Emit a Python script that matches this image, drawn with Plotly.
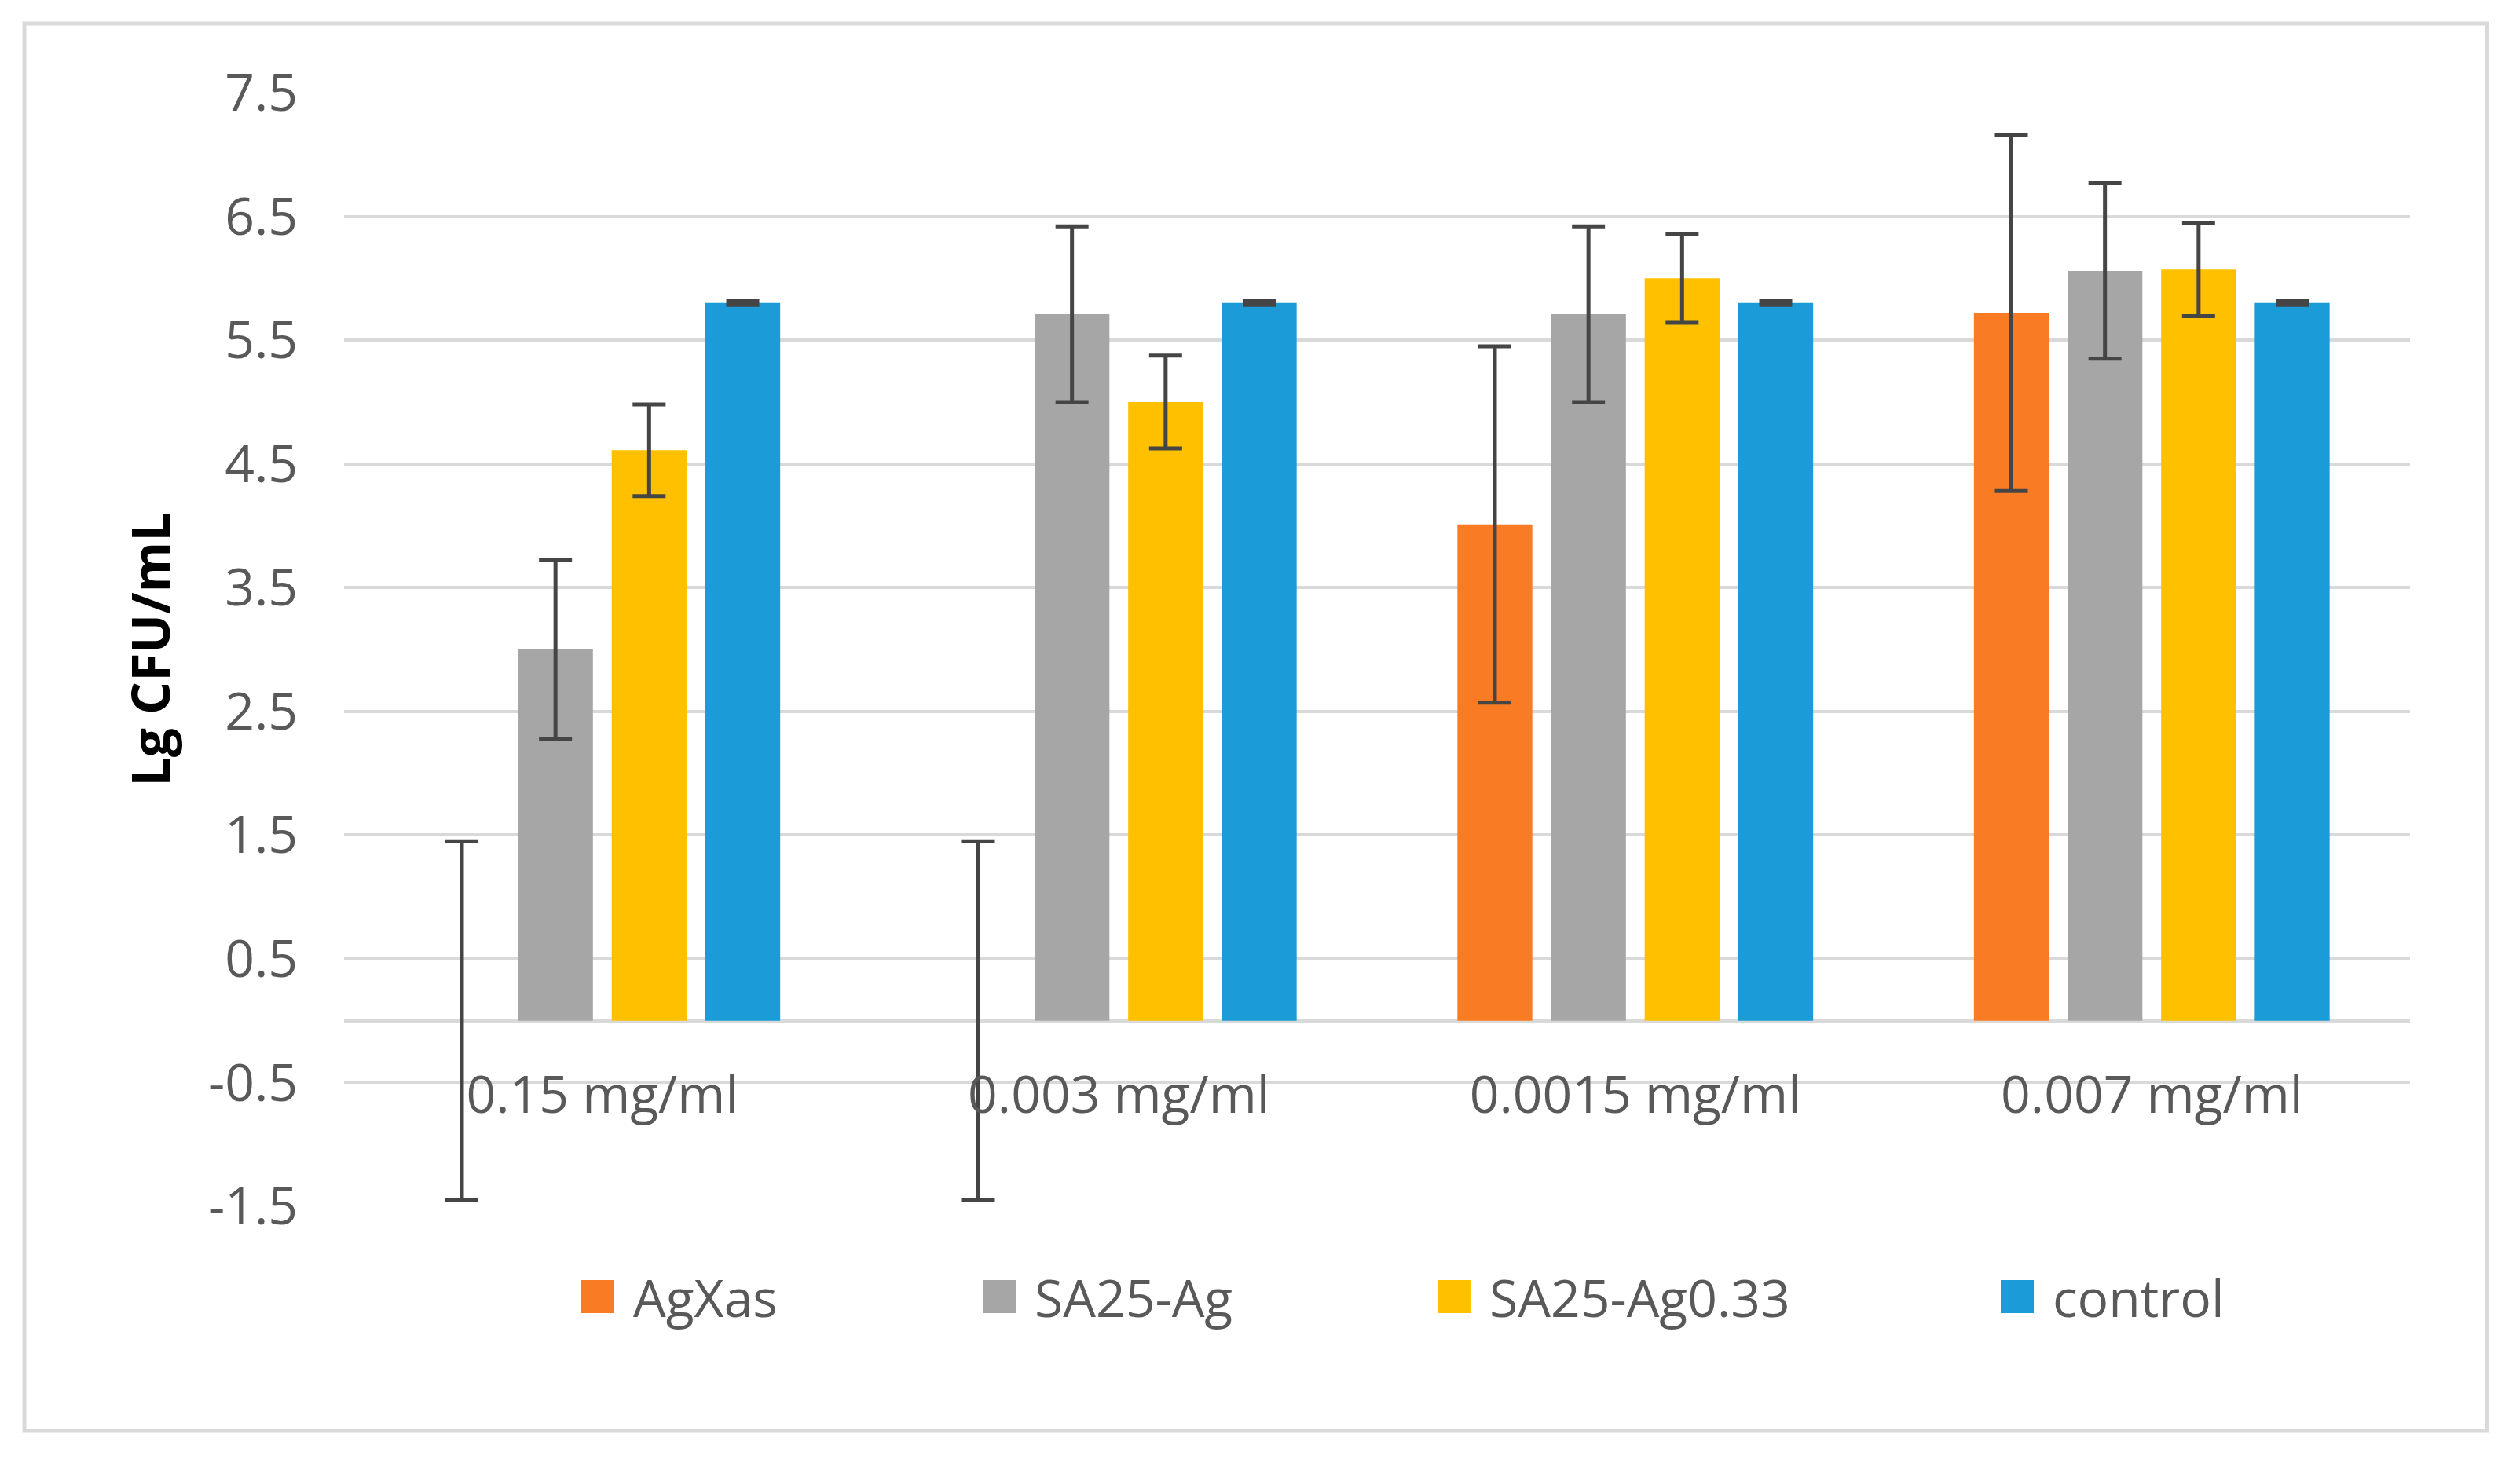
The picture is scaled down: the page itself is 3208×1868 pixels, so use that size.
import plotly.graph_objects as go

# ---------------- data ----------------
categories = ["0.15 mg/ml", "0.003 mg/ml", "0.0015 mg/ml", "0.007 mg/ml"]
series_names = ["AgXas", "SA25-Ag", "SA25-Ag0.33", "control"]

agxas = [0.0, 0.0, 4.01, 5.72]
agxas_err = [1.45, 1.45, 1.44, 1.44]

sa25_ag = [3.0, 5.71, 5.71, 6.06]
sa25_ag_err = [0.72, 0.71, 0.71, 0.71]

sa25_ag033 = [4.61, 5.0, 6.0, 6.07]
sa25_ag033_err = [0.37, 0.375, 0.36, 0.375]

control = [5.8, 5.8, 5.8, 5.8]
control_err = [0.015, 0.015, 0.015, 0.015]

y_ticks = [7.5, 6.5, 5.5, 4.5, 3.5, 2.5, 1.5, 0.5, -0.5, -1.5]
y_title = "Lg CFU/mL"

colors = ["#F97C24", "#A6A6A6", "#FFC000", "#1B9BD7"]

# ---------------- layout geometry (pixels) ----------------
W, H = 3208, 1868
L, R, T, B = 438, 140, 118, 332
PW, PH = W - L - R, H - T - B


def px(x):
    return (x - L) / PW


def py(y):
    return (H - B - y) / PH


values = [agxas, sa25_ag, sa25_ag033, control]
errors = [agxas_err, sa25_ag_err, sa25_ag033_err, control_err]

fig = go.Figure()
for name, vals, errs, col in zip(series_names, values, errors, colors):
    fig.add_trace(go.Bar(
        x=categories, y=vals, name=name,
        marker=dict(color=col, line=dict(width=0)),
        error_y=dict(type="data", array=errs, visible=True,
                     color="#454545", thickness=5, width=21),
        showlegend=False,
    ))

font_family = "Open Sans"
tick_color = "#595959"
grid_color = "#D9D9D9"

ymin, ymax = min(y_ticks), max(y_ticks)

fig.update_layout(
    width=W, height=H,
    margin=dict(l=L, r=R, t=T, b=B, pad=0),
    paper_bgcolor="white", plot_bgcolor="white",
    barmode="group", bargap=0.275, bargroupgap=0.2,
    font=dict(family=font_family, size=66, color=tick_color),
    xaxis=dict(
        anchor="free", position=(0 - ymin) / (ymax - ymin),
        showgrid=False, showline=False, ticks="", zeroline=False,
        tickfont=dict(size=66, color=tick_color, family=font_family),
        ticklabelstandoff=50,
    ),
    yaxis=dict(
        range=[ymin, ymax], tickvals=y_ticks,
        ticktext=[f"{v:.1f}" for v in y_ticks],
        showgrid=True, gridcolor=grid_color, gridwidth=4,
        zeroline=True, zerolinecolor=grid_color, zerolinewidth=4,
        showline=False, ticks="",
        tickfont=dict(size=66, color=tick_color, family=font_family),
        ticklabelstandoff=58,
        title=dict(text=f"<b>{y_title}</b>", standoff=26,
                   font=dict(size=66, color="black", family=font_family)),
    ),
)

shapes = [dict(type="rect", xref="paper", yref="paper",
               x0=px(31), x1=px(3166), y0=py(30), y1=py(1822),
               line=dict(color=grid_color, width=5), fillcolor="rgba(0,0,0,0)",
               layer="below")]
annotations = []

legend_x = [740, 1251, 1830, 2547]
legend_cy = 1651
sq = 42
for name, col, lx in zip(series_names, colors, legend_x):
    shapes.append(dict(type="rect", xref="paper", yref="paper",
                       x0=px(lx), x1=px(lx + sq),
                       y0=py(legend_cy + sq / 2), y1=py(legend_cy - sq / 2),
                       line=dict(width=0), fillcolor=col))
    annotations.append(dict(xref="paper", yref="paper",
                            x=px(lx + sq + 22), y=py(legend_cy),
                            xanchor="left", yanchor="middle",
                            text=name, showarrow=False,
                            font=dict(size=66, color=tick_color, family=font_family)))

fig.update_layout(shapes=shapes, annotations=annotations)

fig.write_html("out.html",
               config={"displayModeBar": False},
               post_script="document.body.style.margin='0px';")
